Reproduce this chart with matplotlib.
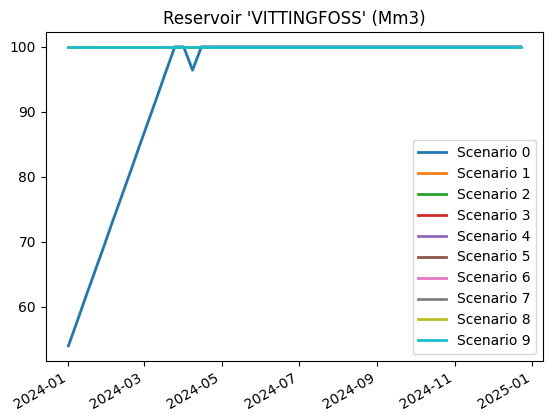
import pandas as pd
import matplotlib.pyplot as plt

dates = pd.date_range("2024-01-01", periods=52, freq="7D")

scenario_0 = [54.0, 57.8, 61.7, 65.5, 69.3, 73.2, 77.0, 80.8, 84.7, 88.5, 92.3, 96.2,
              100.0, 100.0, 96.4] + [100.0] * 37
flat = [100.0] * 52

series = {"Scenario 0": scenario_0}
for i in range(1, 10):
    series["Scenario %d" % i] = flat

fig, ax = plt.subplots(figsize=(5.52, 4.19), dpi=100)
for name, vals in series.items():
    ax.plot(dates, vals, lw=2, label=name)

ax.set_title("Reservoir 'VITTINGFOSS' (Mm3)")
ax.legend(loc="lower right")
fig.autofmt_xdate()
fig.subplots_adjust(left=0.083, right=0.984, top=0.924, bottom=0.139)
plt.savefig("out.png")
